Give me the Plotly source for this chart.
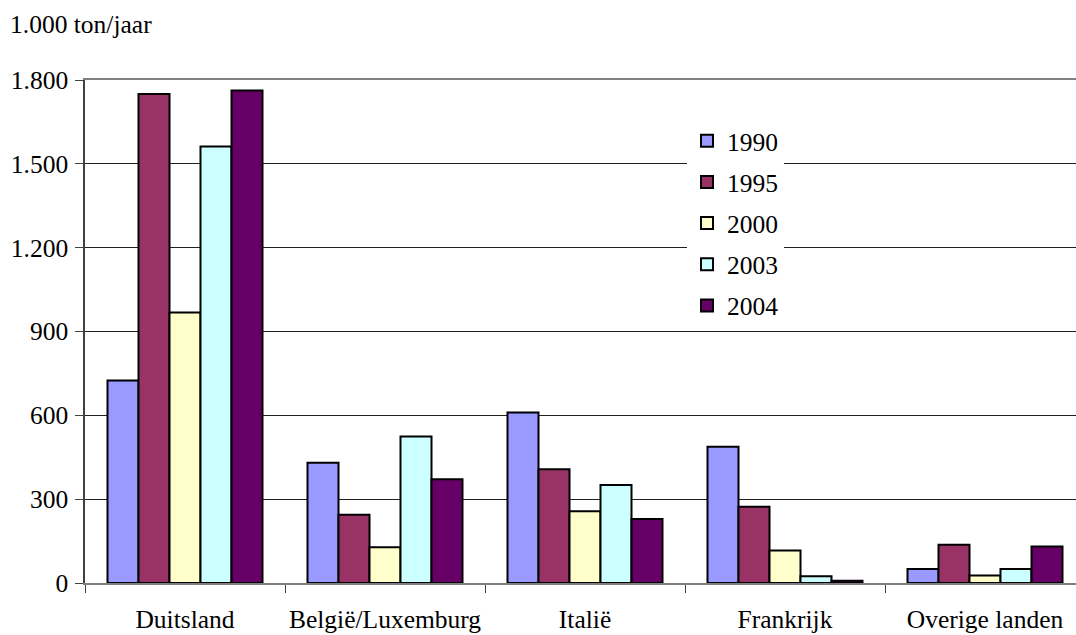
import plotly.graph_objects as go

# Export of manure per destination country (x 1.000 ton per year)
countries = ["Duitsland", "België/Luxemburg", "Italië", "Frankrijk", "Overige landen"]
years = ["1990", "1995", "2000", "2003", "2004"]

v1990 = [725, 430, 610, 488, 50]
v1995 = [1750, 244, 407, 273, 137]
v2000 = [968, 128, 257, 116, 27]
v2003 = [1562, 524, 351, 24, 50]
v2004 = [1762, 371, 229, 8, 131]

series = [v1990, v1995, v2000, v2003, v2004]
colors = ["#9999FF", "#993366", "#FFFFCC", "#CCFFFF", "#660066"]

FONT = "Liberation Serif"
FS = 25.5

fig = go.Figure()
for name, vals, col in zip(years, series, colors):
    fig.add_trace(go.Bar(
        name=name, x=countries, y=vals,
        marker=dict(color=col, line=dict(color="#000000", width=2)),
        legendgroup=name,
    ))

fig.update_layout(
    width=1076, height=635,
    margin=dict(l=85, r=0, t=80, b=52, autoexpand=False),
    paper_bgcolor="white", plot_bgcolor="white",
    barmode="group", bargap=0.225, bargroupgap=0,
    separators=",.",
    font=dict(family=FONT, size=FS, color="#000000"),
    title=dict(text="1.000 ton/jaar", x=10 / 1076, xanchor="left",
               y=1 - 24 / 635, yanchor="middle", yref="container",
               font=dict(family=FONT, size=FS, color="#000000")),
    legend=dict(x=0.6075, xanchor="left", y=0.925, yanchor="top",
                bgcolor="white", borderwidth=0, traceorder="grouped",
                tracegroupgap=5, font=dict(family=FONT, size=FS, color="#000000")),
    showlegend=True,
)

fig.update_xaxes(
    type="category", range=[-0.5, 4.455], tickangle=0, automargin=False,
    tickfont=dict(family=FONT, size=FS, color="#000000"),
    showline=True, linecolor="#808080", linewidth=1.5, mirror=True,
    ticks="outside", tickson="boundaries", ticklen=8, tickcolor="#404040",
    tickwidth=1, showgrid=False, ticklabelstandoff=13,
)
fig.update_yaxes(
    range=[0, 1800], tickvals=[0, 300, 600, 900, 1200, 1500, 1800],
    tickformat=",d", automargin=False,
    tickfont=dict(family=FONT, size=FS, color="#000000"),
    showline=True, linecolor="#404040", linewidth=1.5,
    ticks="outside", ticklen=8, tickcolor="#404040", tickwidth=1,
    showgrid=True, gridcolor="#202020", gridwidth=1,
    zeroline=False, ticklabelstandoff=2,
)

fig.write_html("out.html")
